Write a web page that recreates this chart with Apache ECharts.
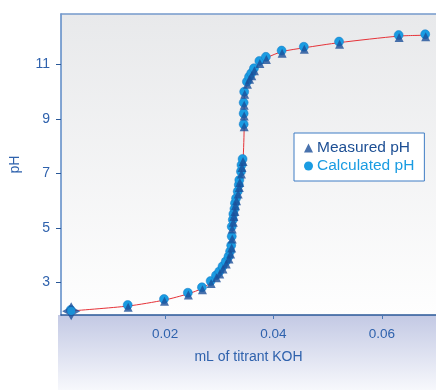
<!DOCTYPE html>
<html>
<head>
<meta charset="utf-8">
<script src="https://cdn.jsdelivr.net/npm/echarts@6/dist/echarts.min.js"></script>
<style>
  html, body { margin: 0; padding: 0; background: #fff; }
  #chart { width: 436px; height: 390px; }
</style>
</head>
<body>
<div id="chart"></div>
<script>
// titrant volume (mL) for each reading
const volumeKOH = [0.00268, 0.0132, 0.0199, 0.0243, 0.0269, 0.0285, 0.0295, 0.0301, 0.0307, 0.0313,
  0.0318, 0.0321, 0.0323, 0.0324, 0.0324, 0.0326, 0.0327, 0.0329, 0.0330, 0.0332,
  0.0335, 0.0337, 0.0338, 0.0341, 0.0342, 0.0344, 0.0346, 0.0346, 0.0346, 0.0347,
  0.0352, 0.0356, 0.0360, 0.0365, 0.0375, 0.0387, 0.0416, 0.0457, 0.0522, 0.0632, 0.0681]

const measuredPH = [1.94, 2.12, 2.34, 2.57, 2.76, 2.99, 3.20, 3.34, 3.53, 3.71,
  3.89, 4.08, 4.30, 4.63, 4.99, 5.24, 5.45, 5.64, 5.85, 6.03,
  6.28, 6.52, 6.70, 7.01, 7.25, 7.47, 8.75, 9.14, 9.54, 9.94,
  10.31, 10.49, 10.62, 10.80, 11.07, 11.22, 11.45, 11.59, 11.78, 12.02, 12.05]

const calculatedPH = [1.95, 2.13, 2.35, 2.58, 2.78, 3.01, 3.22, 3.36, 3.55, 3.73,
  3.91, 4.10, 4.32, 4.65, 5.01, 5.26, 5.47, 5.66, 5.87, 6.05,
  6.30, 6.54, 6.72, 7.03, 7.27, 7.49, 8.77, 9.16, 9.56, 9.96,
  10.33, 10.51, 10.64, 10.82, 11.09, 11.24, 11.47, 11.61, 11.80, 12.04, 12.07]

const xTicks = [0.02, 0.04, 0.06]
const yTicks = [3, 5, 7, 9, 11]

const pairs = (ys) => volumeKOH.map((x, i) => [x, ys[i]])

// four-point star used for the first reading
const starPath = 'path://M0,-10 L3.6,-3.6 L10,0 L3.6,3.6 L0,10 L-3.6,3.6 L-10,0 L-3.6,-3.6 Z'

const labelColor = '#2f62ad'
const fontFamily = '"Liberation Sans", Arial, sans-serif'

const measuredData = pairs(measuredPH)
measuredData[0] = { value: measuredData[0], symbol: starPath, symbolSize: 18, symbolOffset: [0, 0], itemStyle: { color: '#1b4f98' } }

let chart = echarts.init(document.getElementById('chart'), null, { renderer: 'canvas' })

chart.setOption({
  animation: false,
  backgroundColor: '#fff',
  textStyle: { fontFamily },
  grid: {
    left: 58, top: 14, right: 0, bottom: 75,
    show: true,
    borderWidth: 0,
    backgroundColor: {
      type: 'linear', x: 0, y: 0, x2: 0, y2: 1,
      colorStops: [{ offset: 0, color: '#e8e9eb' }, { offset: 1, color: '#fefefe' }]
    }
  },
  graphic: [{
    type: 'rect',
    left: 58, top: 315,
    shape: { width: 378, height: 75 },
    z: -1,
    style: {
      fill: {
        type: 'linear', x: 0, y: 0, x2: 0, y2: 1,
        colorStops: [{ offset: 0, color: '#c3c9e4' }, { offset: 1, color: '#f7f8fc' }]
      }
    }
  }],
  legend: {
    orient: 'vertical',
    left: 294, top: 133,
    padding: [7, 10, 7, 10],
    itemGap: 2,
    itemWidth: 9, itemHeight: 9,
    backgroundColor: '#fff',
    borderColor: '#3f7cc4',
    borderWidth: 1,
    borderRadius: 0,
    itemStyle: { borderWidth: 0 },
    textStyle: { fontSize: 15.5, fontFamily, padding: [0, 0, 0, -1] },
    data: [
      { name: 'Measured pH', icon: 'triangle', itemStyle: { color: '#1b4f98' }, textStyle: { color: '#1d4f94' } },
      { name: 'Calculated pH', icon: 'circle', itemStyle: { color: '#1a9ce2', borderWidth: 0 }, textStyle: { color: '#1a9ce2' } }
    ]
  },
  xAxis: [{
    type: 'value',
    min: 0.0008, max: 0.07,
    name: 'mL of titrant KOH',
    nameLocation: 'middle',
    nameGap: 35,
    nameTextStyle: { color: labelColor, fontSize: 14 },
    splitLine: { show: false },
    axisLine: { show: true, lineStyle: { color: '#2a5898', width: 1.5 } },
    axisTick: { show: true, length: 4, customValues: xTicks, lineStyle: { color: '#4a77b5' } },
    axisLabel: { color: labelColor, fontSize: 13.5, margin: 12, customValues: xTicks, formatter: v => v.toFixed(2) }
  }, {
    type: 'value',
    position: 'top',
    min: 0.0008, max: 0.07,
    axisLine: { show: true, lineStyle: { color: '#7499cc', width: 1.5 } },
    axisTick: { show: false },
    axisLabel: { show: false },
    splitLine: { show: false }
  }],
  yAxis: {
    type: 'value',
    min: 1.8, max: 12.85,
    name: 'pH',
    nameLocation: 'middle',
    nameRotate: 90,
    nameGap: 39,
    nameTextStyle: { color: labelColor, fontSize: 14 },
    splitLine: { show: false },
    axisLine: { show: true, lineStyle: { color: '#5a88c6', width: 1.5 } },
    axisTick: { show: true, length: 5, customValues: yTicks, lineStyle: { color: '#2a5898' } },
    axisLabel: { color: labelColor, fontSize: 14, margin: 11, customValues: yTicks }
  },
  series: [{
    name: 'Calculated pH',
    type: 'line',
    data: pairs(calculatedPH),
    smooth: 0.25,
    symbol: 'circle',
    symbolSize: 9,
    symbolOffset: [-0.5, -1],
    showAllSymbol: true,
    lineStyle: { color: '#e63238', width: 1 },
    itemStyle: { color: '#1a9ce2', borderColor: '#1478c4', borderWidth: 0.5 },
    z: 2
  }, {
    name: 'Measured pH',
    type: 'scatter',
    data: measuredData,
    symbol: 'triangle',
    symbolSize: 9,
    symbolOffset: [0, 1],
    itemStyle: { color: '#1b4f98' },
    z: 3
  }, {
    name: 'start',
    type: 'scatter',
    data: [[volumeKOH[0], calculatedPH[0]]],
    symbol: 'circle',
    symbolSize: 8,
    itemStyle: { color: '#1a9ce2' },
    z: 4
  }]
})
</script>
</body>
</html>
